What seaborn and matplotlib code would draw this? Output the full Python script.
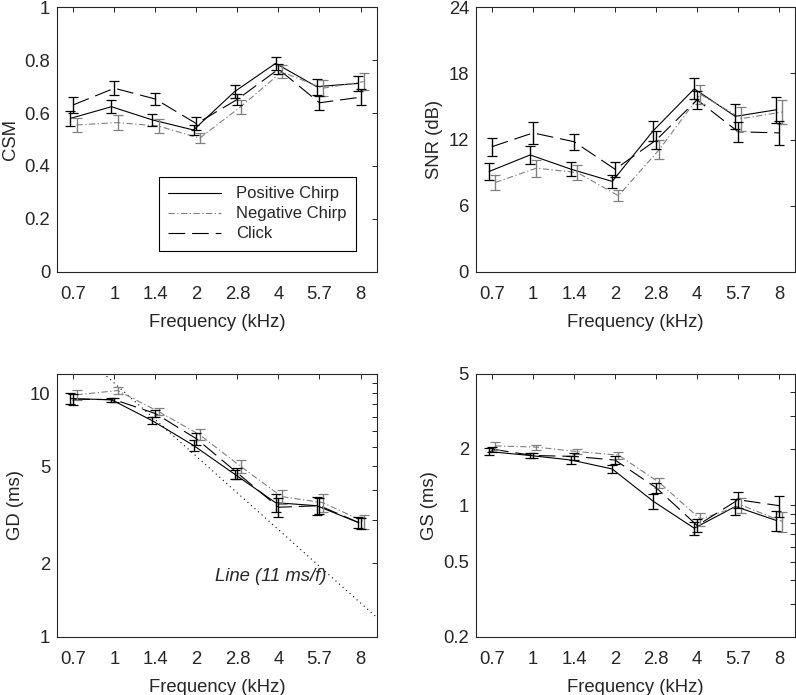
import numpy as np
import pandas as pd
import seaborn as sns
import matplotlib.pyplot as plt
from matplotlib.lines import Line2D

# === Data ===
freqs = ["0.7", "1", "1.4", "2", "2.8", "4", "5.7", "8"]
conditions = ["Positive Chirp", "Negative Chirp", "Click"]

csm_pos = [0.58, 0.624, 0.574, 0.536, 0.681, 0.788, 0.70, 0.712]
csm_pos_err = [0.028, 0.025, 0.023, 0.02, 0.025, 0.025, 0.03, 0.03]
csm_neg = [0.555, 0.564, 0.551, 0.505, 0.624, 0.756, 0.694, 0.719]
csm_neg_err = [0.025, 0.028, 0.028, 0.02, 0.027, 0.025, 0.03, 0.033]
csm_click = [0.631, 0.694, 0.653, 0.56, 0.652, 0.766, 0.639, 0.66]
csm_click_err = [0.03, 0.027, 0.023, 0.025, 0.022, 0.019, 0.027, 0.03]

snr_pos = [9.1, 10.6, 9.3, 8.2, 12.8, 16.6, 14.1, 14.7]
snr_pos_err = [0.73, 0.85, 0.62, 0.6, 0.9, 0.94, 1.15, 1.18]
snr_neg = [8.1, 9.4, 9.0, 6.9, 11.1, 16.1, 13.9, 14.5]
snr_neg_err = [0.7, 0.76, 0.71, 0.51, 0.83, 0.88, 1.09, 1.13]
snr_click = [11.35, 12.6, 11.8, 9.3, 11.95, 15.6, 12.7, 12.6]
snr_click_err = [0.82, 0.97, 0.73, 0.68, 0.79, 0.8, 0.9, 1.1]

gd_pos = [9.5, 9.4, 7.7, 6.1, 4.65, 3.55, 3.45, 2.95]
gd_pos_err = [0.5, 0.2, 0.25, 0.3, 0.2, 0.3, 0.3, 0.15]
gd_neg = [9.85, 10.25, 8.4, 6.75, 5.0, 3.76, 3.55, 2.97]
gd_neg_err = [0.45, 0.35, 0.3, 0.35, 0.3, 0.25, 0.3, 0.2]
gd_click = [9.45, 9.4, 8.25, 6.5, 4.7, 3.4, 3.45, 2.92]
gd_click_err = [0.5, 0.2, 0.25, 0.35, 0.25, 0.3, 0.25, 0.15]

gs_pos = [1.93, 1.84, 1.74, 1.56, 1.05, 0.755, 0.985, 0.83]
gs_pos_err = [0.08, 0.05, 0.08, 0.08, 0.1, 0.06, 0.1, 0.1]
gs_neg = [2.07, 2.04, 1.93, 1.85, 1.32, 0.843, 1.0, 0.82]
gs_neg_err = [0.1, 0.06, 0.06, 0.08, 0.08, 0.07, 0.09, 0.1]
gs_click = [1.99, 1.84, 1.82, 1.74, 1.24, 0.78, 1.07, 0.995]
gs_click_err = [0.06, 0.05, 0.07, 0.08, 0.08, 0.06, 0.1, 0.13]

line_slope_ms = 11  # reference line GD = 11 ms / f

# === Style ===
sns.set_style("white")
plt.rcParams["font.family"] = ["Liberation Sans", "DejaVu Sans"]
plt.rcParams["lines.scale_dashes"] = False
TXT = "#262626"
plt.rcParams.update({"text.color": TXT, "axes.labelcolor": TXT,
                     "xtick.color": TXT, "ytick.color": TXT,
                     "axes.edgecolor": TXT, "axes.linewidth": 0.8})

colors = {"Positive Chirp": "black", "Negative Chirp": "#808080", "Click": "black"}
dashes = {"Positive Chirp": "", "Negative Chirp": (4.5, 1.8, 0.9, 1.8), "Click": (12, 5)}
offsets = {"Positive Chirp": -0.07, "Negative Chirp": 0.08, "Click": 0.0}

panels = [
    ("CSM", [csm_pos, csm_neg, csm_click], [csm_pos_err, csm_neg_err, csm_click_err]),
    ("SNR (dB)", [snr_pos, snr_neg, snr_click], [snr_pos_err, snr_neg_err, snr_click_err]),
    ("GD (ms)", [gd_pos, gd_neg, gd_click], [gd_pos_err, gd_neg_err, gd_click_err]),
    ("GS (ms)", [gs_pos, gs_neg, gs_click], [gs_pos_err, gs_neg_err, gs_click_err]),
]

fig = plt.figure(figsize=(7.96, 6.95), dpi=100)
rects = [
    [0.072, 0.609, 0.401, 0.3805],
    [0.598, 0.609, 0.401, 0.3805],
    [0.072, 0.084, 0.401, 0.378],
    [0.598, 0.084, 0.401, 0.378],
]

FS = 13.3
for (ylab, means, errs), rect in zip(panels, rects):
    ax = fig.add_axes(rect)
    rows = []
    for cond, m, e in zip(conditions, means, errs):
        for i, (v, s) in enumerate(zip(m, e)):
            rows.append({"x": i + offsets[cond], "y": v, "err": s, "cond": cond})
    df = pd.DataFrame(rows)

    sns.lineplot(data=df, x="x", y="y", hue="cond", style="cond",
                 palette=colors, dashes=dashes, linewidth=0.8,
                 legend=False, ax=ax, zorder=3)
    for cond in conditions:
        d = df[df["cond"] == cond]
        ax.errorbar(d["x"], d["y"], yerr=d["err"], fmt="none",
                    ecolor=colors[cond], elinewidth=1.0, capsize=3.5,
                    capthick=0.9, zorder=4)

    ax.set_xlim(-0.39, 7.39)
    ax.set_xticks(range(len(freqs)))
    ax.set_xticklabels(freqs)
    ax.set_xlabel("Frequency (kHz)", fontsize=FS, labelpad=8)
    ax.set_ylabel(ylab, fontsize=FS, labelpad=4)

    if ylab == "CSM":
        ax.set_ylim(0, 1)
        ax.set_yticks([0, 0.2, 0.4, 0.6, 0.8, 1])
        ax.set_yticklabels(["0", "0.2", "0.4", "0.6", "0.8", "1"])
        handles = [Line2D([], [], color="black", lw=0.8, linestyle="-"),
                   Line2D([], [], color=colors["Negative Chirp"], lw=0.8,
                          dashes=dashes["Negative Chirp"]),
                   Line2D([], [], color="black", lw=0.8, dashes=dashes["Click"])]
        leg = ax.legend(handles, conditions, loc="lower right",
                        bbox_to_anchor=(0.935, 0.08), fontsize=12,
                        handlelength=3.2, handletextpad=0.9, labelspacing=0.3,
                        borderpad=0.55, borderaxespad=0, fancybox=False,
                        framealpha=1, edgecolor="black")
        leg.get_frame().set_linewidth(0.8)
    elif ylab == "SNR (dB)":
        ax.set_ylim(0, 24)
        ax.set_yticks([0, 6, 12, 18, 24])
    elif ylab == "GD (ms)":
        ax.set_yscale("log")
        ax.set_ylim(1, 12)
        ax.set_yticks([1, 2, 5, 10])
        ax.set_yticklabels(["1", "2", "5", "10"])
        ax.set_yticks([3, 4, 6, 7, 8, 9, 11], minor=True)
        ax.yaxis.set_minor_formatter(plt.NullFormatter())
        xx = np.linspace(-0.39, 7.39, 200)
        ax.plot(xx, line_slope_ms / 2 ** ((xx - 1) / 2), color="black",
                lw=0.8, dashes=(0.8, 2.6), zorder=2)
        ax.text(4.8, 1.76, "Line (11 ms/f)", style="italic", fontsize=FS,
                ha="center", va="center")
    else:
        ax.set_yscale("log")
        ax.set_ylim(0.2, 5)
        ax.set_yticks([0.2, 0.5, 1, 2, 5])
        ax.set_yticklabels(["0.2", "0.5", "1", "2", "5"])
        ax.set_yticks([0.3, 0.4, 0.6, 0.7, 0.8, 0.9, 3, 4], minor=True)
        ax.yaxis.set_minor_formatter(plt.NullFormatter())

    ax.tick_params(which="both", direction="in", top=True, right=True,
                   length=3.5, width=0.7, labelsize=FS)
    ax.tick_params(axis="x", pad=10)
    ax.tick_params(axis="y", pad=5)
    for sp in ax.spines.values():
        sp.set_visible(True)
        sp.set_color(TXT)

fig.savefig("out.png", dpi=100)
